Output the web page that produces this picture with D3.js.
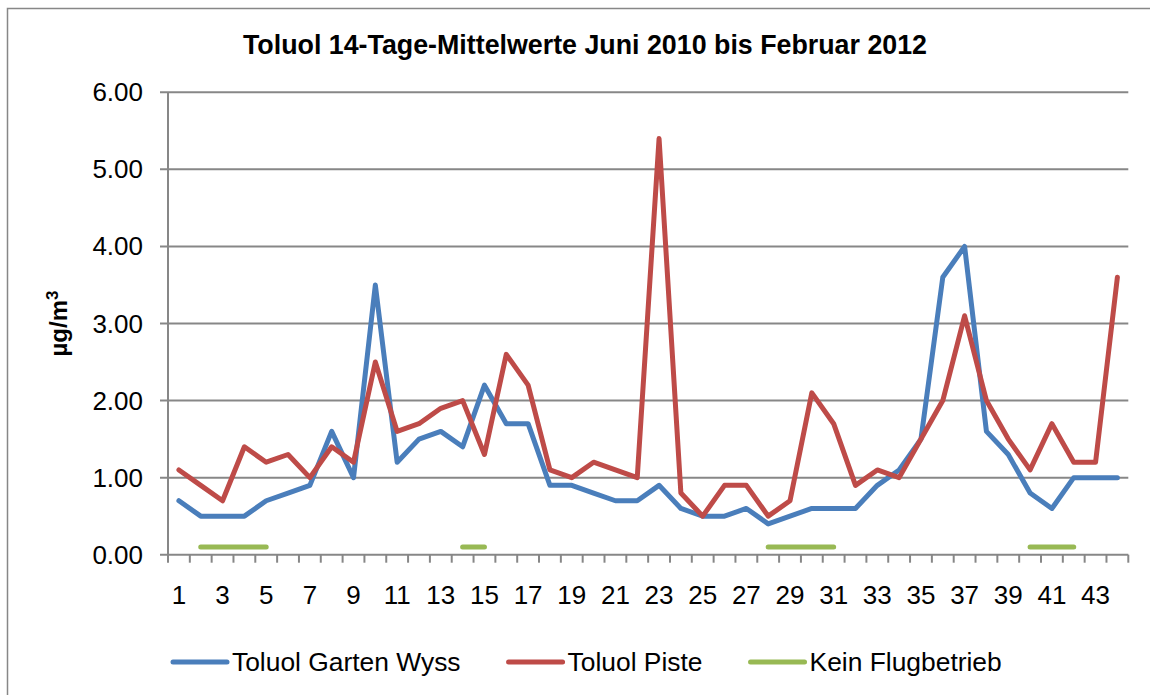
<!DOCTYPE html>
<html>
<head>
<meta charset="utf-8">
<script src="https://cdn.jsdelivr.net/npm/d3@7"></script>
<style>
  body { margin: 0; background: #fff; }
  svg { display: block; font-family: "Liberation Sans", Arial, sans-serif; }
</style>
</head>
<body>
<script>
// 14-day periods
var categories = [1,2,3,4,5,6,7,8,9,10,11,12,13,14,15,16,17,18,19,20,21,22,
                  23,24,25,26,27,28,29,30,31,32,33,34,35,36,37,38,39,40,41,42,43,44];
var tickLabels = [1,3,5,7,9,11,13,15,17,19,21,23,25,27,29,31,33,35,37,39,41,43];
var yTicks = [0,1,2,3,4,5,6];

var gartenWyss = [0.7,0.5,0.5,0.5,0.7,0.8,0.9,1.6,1.0,3.5,1.2,1.5,1.6,1.4,2.2,1.7,1.7,0.9,0.9,0.8,0.7,0.7,
                  0.9,0.6,0.5,0.5,0.6,0.4,0.5,0.6,0.6,0.6,0.9,1.1,1.5,3.6,4.0,1.6,1.3,0.8,0.6,1.0,1.0,1.0];
var piste      = [1.1,0.9,0.7,1.4,1.2,1.3,1.0,1.4,1.2,2.5,1.6,1.7,1.9,2.0,1.3,2.6,2.2,1.1,1.0,1.2,1.1,1.0,
                  5.4,0.8,0.5,0.9,0.9,0.5,0.7,2.1,1.7,0.9,1.1,1.0,1.5,2.0,3.1,2.0,1.5,1.1,1.7,1.2,1.2,3.6];
var keinFlug   = [null,0.1,0.1,0.1,0.1,null,null,null,null,null,null,null,null,0.1,0.1,null,null,null,null,null,null,null,
                  null,null,null,null,null,0.1,0.1,0.1,0.1,null,null,null,null,null,null,null,null,0.1,0.1,0.1,null,null];

var series = [
  {name: "Toluol Garten Wyss", values: gartenWyss, color: "#4a7ebb"},
  {name: "Toluol Piste",       values: piste,      color: "#be4b48"},
  {name: "Kein Flugbetrieb",   values: keinFlug,   color: "#98b954"}
];

var W = 1150, H = 695;
var margin = {top: 92.3, right: 21.7, bottom: 140.3, left: 168};
var gridColor = "#878787";

var svg = d3.select("body").append("svg")
    .attr("width", W)
    .attr("height", H);

// outer chart frame (cut by the image on right and bottom)
svg.append("rect")
    .attr("x", 7.5).attr("y", 8.5)
    .attr("width", 1160).attr("height", 700)
    .attr("fill", "none")
    .attr("stroke", gridColor)
    .attr("stroke-width", 1.5);

var x = d3.scaleBand()
    .domain(categories)
    .range([margin.left, W - margin.right])
    .padding(0);

var y = d3.scaleLinear()
    .domain([0, 6])
    .range([H - margin.bottom, margin.top]);

// title
svg.append("text")
    .attr("x", 585)
    .attr("y", 54)
    .attr("text-anchor", "middle")
    .style("font-size", "26.8px")
    .style("font-weight", "bold")
    .text("Toluol 14-Tage-Mittelwerte Juni 2010 bis Februar 2012");

// horizontal grid + y ticks
svg.append("g").selectAll("line")
    .data(yTicks)
  .enter().append("line")
    .attr("x1", margin.left - 8)
    .attr("x2", W - margin.right)
    .attr("y1", function(d) { return y(d); })
    .attr("y2", function(d) { return y(d); })
    .attr("stroke", gridColor)
    .attr("stroke-width", 2);

svg.append("g").selectAll("text")
    .data(yTicks)
  .enter().append("text")
    .attr("x", 143)
    .attr("y", function(d) { return y(d) + 9; })
    .attr("text-anchor", "end")
    .style("font-size", "26px")
    .text(function(d) { return d3.format(".2f")(d); });

// y axis line
svg.append("line")
    .attr("x1", margin.left).attr("x2", margin.left)
    .attr("y1", y(6)).attr("y2", y(0))
    .attr("stroke", gridColor)
    .attr("stroke-width", 2);

// x ticks at category boundaries
var boundaries = categories.map(function(c) { return x(c); }).concat([x.range()[1]]);
svg.append("g").selectAll("line")
    .data(boundaries)
  .enter().append("line")
    .attr("x1", function(d) { return d; })
    .attr("x2", function(d) { return d; })
    .attr("y1", y(0))
    .attr("y2", y(0) + 8)
    .attr("stroke", gridColor)
    .attr("stroke-width", 2);

svg.append("g").selectAll("text")
    .data(tickLabels)
  .enter().append("text")
    .attr("x", function(d) { return x(d) + x.bandwidth() / 2; })
    .attr("y", 604)
    .attr("text-anchor", "middle")
    .style("font-size", "26px")
    .text(function(d) { return d; });

// y axis title with raised superscript
var yt = svg.append("text")
    .attr("transform", "translate(67," + ((y(0) + y(6)) / 2) + ") rotate(-90)")
    .attr("text-anchor", "middle")
    .style("font-size", "24px")
    .style("font-weight", "bold");
yt.append("tspan").text("µg/m");
yt.append("tspan")
    .attr("dy", -9)
    .style("font-size", "17px")
    .text("3");

// lines
var line = d3.line()
    .defined(function(d) { return d != null; })
    .x(function(d, i) { return x(categories[i]) + x.bandwidth() / 2; })
    .y(function(d) { return y(d); });

svg.append("g").selectAll("path")
    .data([series[2], series[0], series[1]])
  .enter().append("path")
    .attr("d", function(s) { return line(s.values); })
    .attr("fill", "none")
    .attr("stroke", function(s) { return s.color; })
    .attr("stroke-width", 5)
    .attr("stroke-linejoin", "round")
    .attr("stroke-linecap", "round");

// legend
var lx = 173, ly = 662;
series.forEach(function(s) {
  svg.append("line")
      .attr("x1", lx).attr("x2", lx + 54)
      .attr("y1", ly).attr("y2", ly)
      .attr("stroke", s.color)
      .attr("stroke-width", 5)
      .attr("stroke-linecap", "round");
  var t = svg.append("text")
      .attr("x", lx + 59)
      .attr("y", ly + 9)
      .style("font-size", "26.4px")
      .text(s.name);
  lx = lx + 59 + t.node().getComputedTextLength() + 48;
});
</script>
</body>
</html>
